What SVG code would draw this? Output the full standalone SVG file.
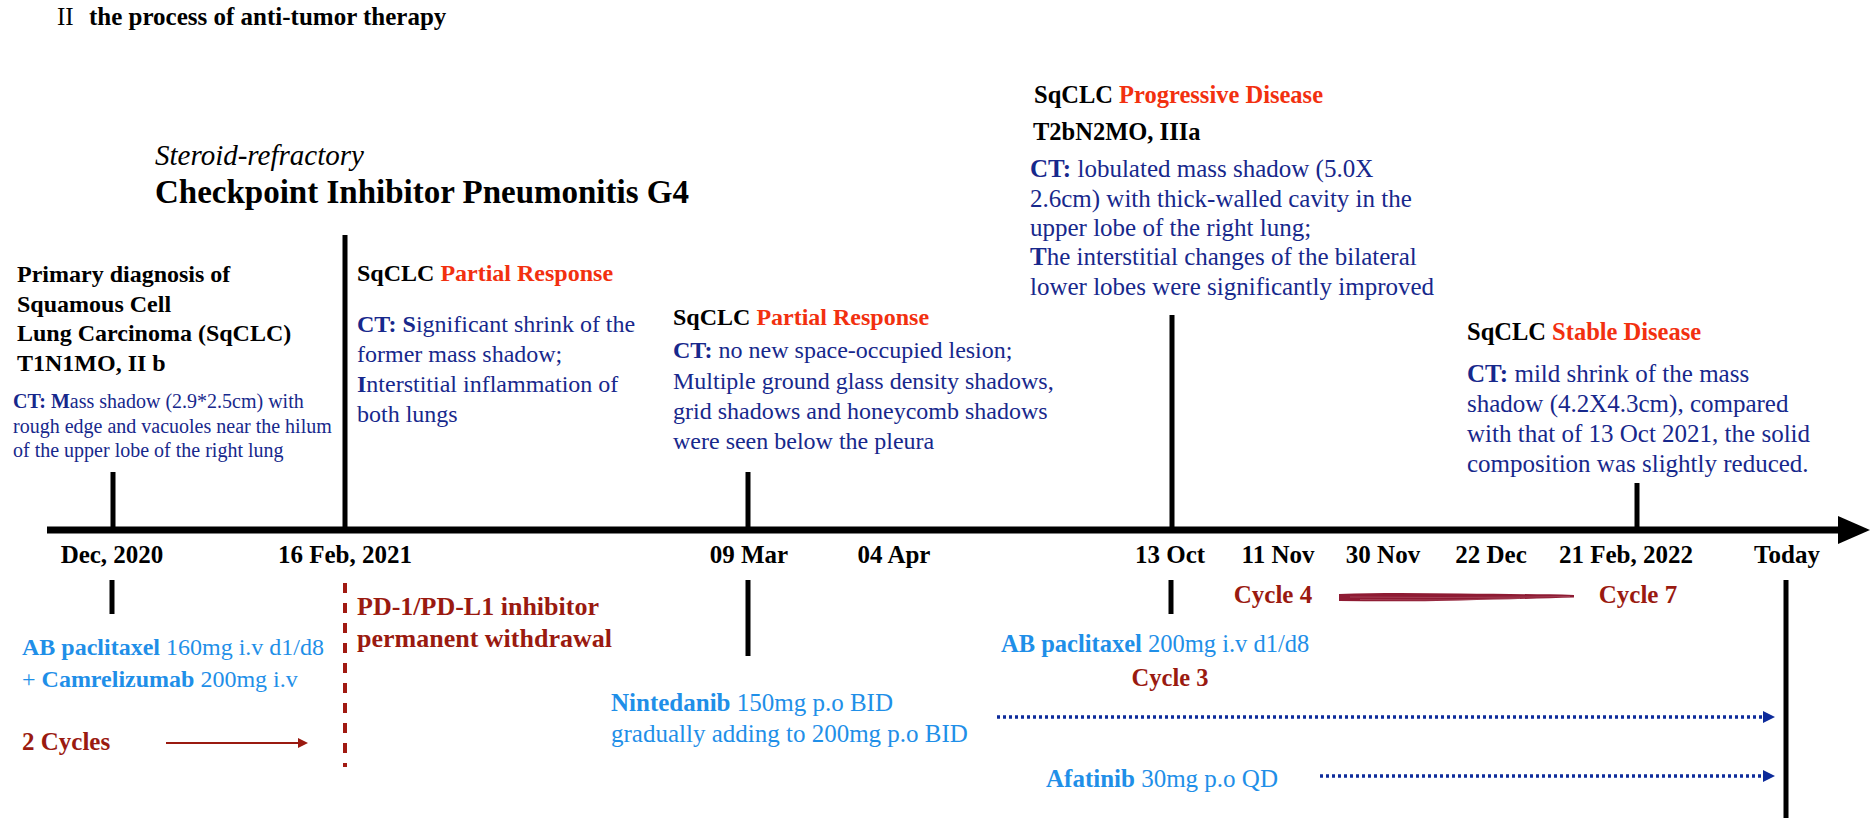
<svg xmlns="http://www.w3.org/2000/svg" width="1872" height="824" viewBox="0 0 1872 824">
<defs>
<style>
text{font-family:"Liberation Serif","Times New Roman",serif;}
.b{font-weight:700}
.it{font-style:italic}
.k{fill:#000}
.red{fill:#f2300f}
.dr{fill:#9a1a10}
.lb{fill:#1f8fe8}
.nv{fill:#17288c}
.mid{text-anchor:middle}
.tick{stroke:#000;stroke-width:5;fill:none}
.dot{stroke:#0d2b9b;stroke-width:3.5;stroke-dasharray:3 3;fill:none}
</style>
<marker id="navyHead" markerWidth="12" markerHeight="12" refX="0" refY="6" orient="auto" markerUnits="userSpaceOnUse">
<path d="M0,0 L12,6 L0,12 Z" fill="#0d2b9b"/>
</marker>
<marker id="redHead" markerWidth="10" markerHeight="10" refX="0" refY="5" orient="auto" markerUnits="userSpaceOnUse">
<path d="M0,0 L10,5 L0,10 Z" fill="#9a1a10"/>
</marker>
</defs>
<rect width="1872" height="824" fill="#fff"/>

<g id="title">
<text x="57" y="25" class="k" font-size="25">II</text>
<text x="89" y="25" class="b k" font-size="25">the process of anti-tumor therapy</text>
</g>

<g id="connectors">
<line x1="47" y1="530" x2="1842" y2="530" stroke="#000" stroke-width="7"/>
<polygon points="1838,516 1870,530 1838,544" fill="#000"/>
<line class="tick" x1="113" y1="472" x2="113" y2="530"/>
<line class="tick" x1="345" y1="235" x2="345" y2="530"/>
<line class="tick" x1="748" y1="472" x2="748" y2="530"/>
<line class="tick" x1="1172" y1="315" x2="1172" y2="530"/>
<line class="tick" x1="1637" y1="483" x2="1637" y2="530"/>
<line class="tick" x1="112" y1="580" x2="112" y2="614"/>
<line class="tick" x1="748" y1="580" x2="748" y2="656"/>
<line class="tick" x1="1171" y1="580" x2="1171" y2="614"/>
<line class="tick" x1="1786" y1="580" x2="1786" y2="818"/>
<line x1="345" y1="583" x2="345" y2="767" stroke="#a11a12" stroke-width="4" stroke-dasharray="10 10"/>
<line x1="166" y1="743" x2="298" y2="743" stroke="#9a1a10" stroke-width="2.2" marker-end="url(#redHead)"/>
<line class="dot" x1="997" y1="717" x2="1763" y2="717" marker-end="url(#navyHead)"/>
<line class="dot" x1="1320" y1="776" x2="1763" y2="776" marker-end="url(#navyHead)"/>
<path d="M1339,594 C1380,592.5 1420,593 1460,593.5 C1500,594 1540,594 1574,595 L1574,597.5 C1540,598.5 1500,599.5 1460,600.5 C1420,601.5 1380,601.5 1339,601 Z" fill="#8e1b33"/>
<path d="M1350,597 L1440,597.5 L1530,597 L1570,596.5" stroke="#b0566a" stroke-width="1" fill="none" opacity="0.6"/>
<path d="M1360,599.5 L1450,600 L1520,598.5" stroke="#c07585" stroke-width="0.8" fill="none" opacity="0.5"/>
</g>

<g id="n-cip">
<text x="155" y="165" class="it k" font-size="29">Steroid-refractory</text>
<text x="155" y="203" class="b k" font-size="33">Checkpoint Inhibitor Pneumonitis G4</text>
</g>

<g id="n-primary">
<text class="b k" font-size="24"><tspan x="17" y="282">Primary diagnosis of</tspan><tspan x="17" y="312">Squamous Cell</tspan><tspan x="17" y="341">Lung Carcinoma (SqCLC)</tspan><tspan x="17" y="371">T1N1MO, II b</tspan></text>
<text class="nv" font-size="20"><tspan x="13" y="408"><tspan class="b">CT: M</tspan>ass shadow (2.9*2.5cm) with</tspan><tspan x="13" y="433">rough edge and vacuoles near the hilum</tspan><tspan x="13" y="457">of the upper lobe of the right lung</tspan></text>
</g>

<g id="n-pr1">
<text x="357" y="281" class="b k" font-size="24">SqCLC <tspan class="red">Partial Response</tspan></text>
<text class="nv" font-size="24"><tspan x="357" y="332"><tspan class="b">CT: S</tspan>ignificant shrink of the</tspan><tspan x="357" y="362">former mass shadow;</tspan><tspan x="357" y="392"><tspan class="b">I</tspan>nterstitial inflammation of</tspan><tspan x="357" y="422">both lungs</tspan></text>
</g>

<g id="n-pr2">
<text x="673" y="325" class="b k" font-size="24">SqCLC <tspan class="red">Partial Response</tspan></text>
<text class="nv" font-size="24"><tspan x="673" y="358"><tspan class="b">CT:</tspan> no new space-occupied lesion;</tspan><tspan x="673" y="389">Multiple ground glass density shadows,</tspan><tspan x="673" y="419">grid shadows and honeycomb shadows</tspan><tspan x="673" y="449">were seen below the pleura</tspan></text>
</g>

<g id="n-pd">
<text x="1034" y="103" class="b k" font-size="24.5">SqCLC <tspan class="red">Progressive Disease</tspan></text>
<text x="1033" y="140" class="b k" font-size="24.5">T2bN2MO, IIIa</text>
<text class="nv" font-size="25"><tspan x="1030" y="177"><tspan class="b">CT:</tspan> lobulated mass shadow (5.0X</tspan><tspan x="1030" y="207">2.6cm) with thick-walled cavity in the</tspan><tspan x="1030" y="236">upper lobe of the right lung;</tspan><tspan x="1030" y="265"><tspan class="b">T</tspan>he interstitial changes of the bilateral</tspan><tspan x="1030" y="295">lower lobes were significantly improved</tspan></text>
</g>

<g id="n-sd">
<text x="1467" y="340" class="b k" font-size="24.5">SqCLC <tspan class="red">Stable Disease</tspan></text>
<text class="nv" font-size="25"><tspan x="1467" y="382"><tspan class="b">CT:</tspan> mild shrink of the mass</tspan><tspan x="1467" y="412">shadow (4.2X4.3cm), compared</tspan><tspan x="1467" y="442">with that of 13 Oct 2021, the solid</tspan><tspan x="1467" y="472">composition was slightly reduced.</tspan></text>
</g>

<g id="dates" class="b k mid" font-size="25">
<text x="112" y="563">Dec, 2020</text>
<text x="345" y="563">16 Feb, 2021</text>
<text x="749" y="563">09 Mar</text>
<text x="894" y="563">04 Apr</text>
<text x="1170" y="563">13 Oct</text>
<text x="1278" y="563">11 Nov</text>
<text x="1383" y="563">30 Nov</text>
<text x="1491" y="563">22 Dec</text>
<text x="1626" y="563">21 Feb, 2022</text>
<text x="1787" y="563">Today</text>
</g>

<g id="n-chemo1">
<text class="lb" font-size="24"><tspan x="22" y="655"><tspan class="b">AB paclitaxel</tspan> 160mg i.v d1/d8</tspan><tspan x="22" y="687">+ <tspan class="b">Camrelizumab</tspan> 200mg i.v</tspan></text>
<text x="22" y="750" class="b dr" font-size="25">2 Cycles</text>
</g>

<g id="n-withdraw">
<text class="b dr" font-size="26"><tspan x="357" y="615">PD-1/PD-L1 inhibitor</tspan><tspan x="357" y="647">permanent withdrawal</tspan></text>
</g>

<g id="n-ninted">
<text class="lb" font-size="25"><tspan x="611" y="711"><tspan class="b">Nintedanib</tspan> 150mg p.o BID</tspan><tspan x="611" y="742">gradually adding to 200mg p.o BID</tspan></text>
</g>

<g id="n-chemo2">
<text x="1001" y="652" class="lb" font-size="24.5"><tspan class="b">AB paclitaxel</tspan> 200mg i.v d1/d8</text>
<text x="1170" y="686" class="b dr mid" font-size="24.5">Cycle 3</text>
</g>

<g id="n-cycles">
<text x="1273" y="603" class="b dr mid" font-size="25">Cycle 4</text>
<text x="1638" y="603" class="b dr mid" font-size="25">Cycle 7</text>
</g>

<g id="n-afatinib">
<text x="1046" y="787" class="lb" font-size="25"><tspan class="b">Afatinib</tspan> 30mg p.o QD</text>
</g>
</svg>
